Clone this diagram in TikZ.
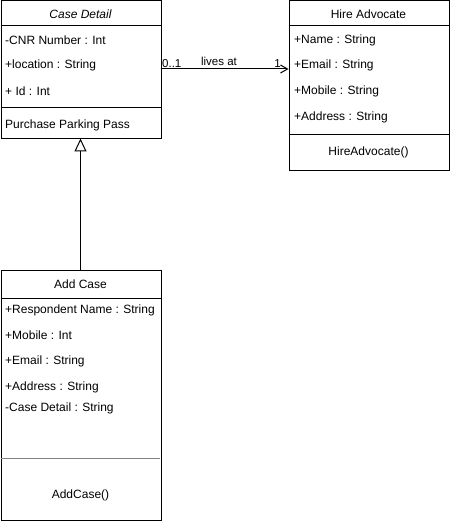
\documentclass[tikz,border=0pt]{standalone}
\usepackage{fontspec}
\setmainfont{Liberation Sans}
\usetikzlibrary{arrows.meta}
\begin{document}
\begin{tikzpicture}[x=1pt,y=-1pt,
  box/.style={draw, line width=1pt, minimum width=160pt, anchor=north west, inner sep=0pt},
  attr/.style={anchor=west, inner sep=0pt, font=\fontsize{12}{14}\selectfont},
  ctr/.style={anchor=center, inner sep=0pt, font=\fontsize{12}{14}\selectfont},
  sep/.style={line width=1pt},
  lbl/.style={inner sep=0pt, font=\fontsize{11.5}{13}\selectfont}]
\useasboundingbox (0,0) rectangle (449,521);
% Case Detail
\node[box, minimum height=138pt] (cd) at (0.5,0.5) {};
\draw[sep] (0.5,26) -- (160.5,26);
\draw[sep] (0.5,108) -- (160.5,108);
\node[ctr] (cdt) at (80.5,14) {\itshape Case Detail};
\node[attr] (cd1) at (5,40) {-CNR Number : Int};
\node[attr] (cd2) at (5,65.5) {+location : String};
\node[attr] (cd3) at (5,91) {+ Id : Int};
\node[attr] (cd4) at (5,125.5) {Purchase Parking Pass};
% Hire Advocate
\node[box, minimum height=170pt] (ha) at (288.5,0.5) {};
\draw[sep] (288.5,26) -- (448.5,26);
\draw[sep] (288.5,135) -- (448.5,135);
\node[ctr] (hat) at (368.5,14) {Hire Advocate};
\node[attr] (ha1) at (294,40) {+Name : String};
\node[attr] (ha2) at (294,65.5) {+Email : String};
\node[attr] (ha3) at (294,91) {+Mobile : String};
\node[attr] (ha4) at (294,117) {+Address : String};
\node[ctr] (ha5) at (368.5,152.5) {HireAdvocate()};
% Add Case
\node[box, minimum height=250pt] (ac) at (0.5,269.5) {};
\draw[sep] (0.5,298) -- (160.5,298);
\draw[line width=1.5pt, gray] (0.5,458.5) -- (160,458.5);
\node[ctr] (act) at (80.5,284) {Add Case};
\node[attr] (ac1) at (5,310) {+Respondent Name : String};
\node[attr] (ac2) at (5,335.5) {+Mobile : Int};
\node[attr] (ac3) at (5,361) {+Email : String};
\node[attr] (ac4) at (5,387) {+Address : String};
\node[attr] (ac5) at (5,408) {-Case Detail : String};
\node[ctr] (ac6) at (80.5,495.5) {AddCase()};
% association
\coordinate (a1) at (160.5,69);
\coordinate (a2) at (288.5,69);
\draw[line width=1pt, -{Straight Barb[length=7pt,width=8pt,line width=1pt]}] (a1) -- (a2);
\node[lbl, anchor=south west] (m1) at (162,68) {0..1};
\node[lbl, anchor=center] (la) at (219,61) {lives at};
\node[lbl, anchor=south east] (m2) at (281,68) {1};
% generalization
\coordinate (g1) at (80.5,269.5);
\coordinate (g2) at (80.5,138.5);
\draw[line width=1pt, -{Triangle[open,length=13pt,width=12pt,line width=1pt]}] (g1) -- (g2);
\end{tikzpicture}
\end{document}
